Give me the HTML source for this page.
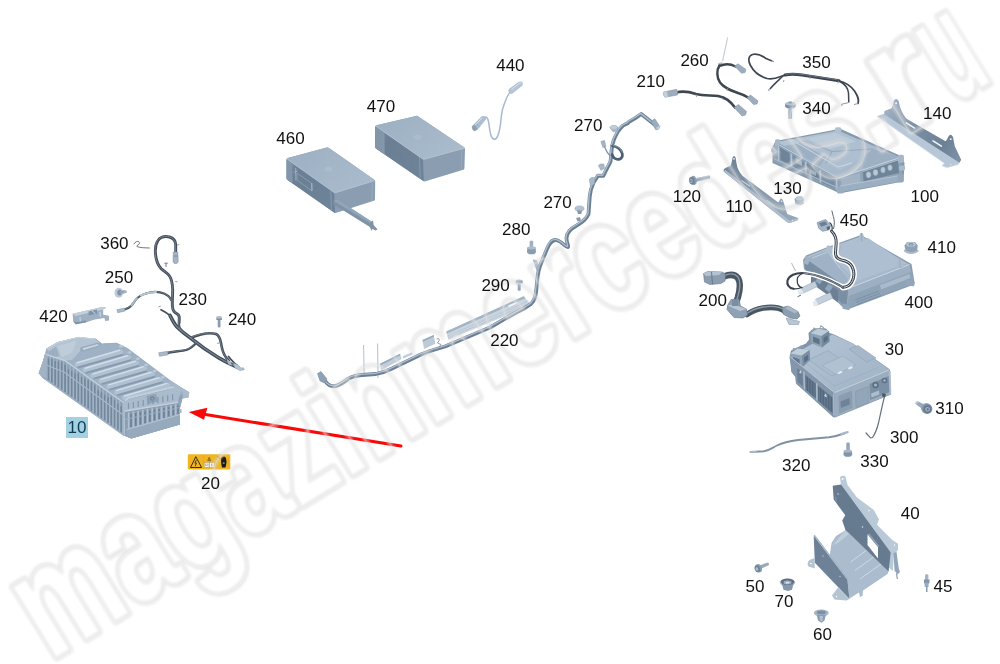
<!DOCTYPE html>
<html><head><meta charset="utf-8"><title>parts</title>
<style>
html,body{margin:0;padding:0;background:#fff;}
body{width:1000px;height:664px;overflow:hidden;font-family:"Liberation Sans",sans-serif;}
svg{display:block;}
.lb{font-family:"Liberation Sans",sans-serif;font-size:17px;fill:#111;text-anchor:middle;}
.wm{font-family:"Liberation Sans",sans-serif;font-weight:bold;font-size:154px;}
</style></head><body>
<svg width="1000" height="664" viewBox="0 0 1000 664">
<rect width="1000" height="664" fill="#fff"/>
<g id="box460">
<path d="M287.800 158 L326.700 147.500 Q328 147.200 329 147.900 L374 179.600 Q375.300 180.500 375.200 181.800 L375 199.500 Q374.900 200.500 373.900 200.800 L336.300 212.800 Q335.100 213.200 334.100 212.500 L287.600 180 Q286.600 179.300 286.600 178.300 L286.600 159.300 Q286.800 158.200 287.800 158 Z" fill="#8a9db1"/>
<path d="M287.800 158 L326.700 147.500 Q328 147.200 329 147.900 L374 179.600 Q375.500 180.700 373.800 181.200 L336 193 Q334.800 193.300 333.800 192.600 L287.600 159.800 Q286.100 158.400 287.800 158 Z" fill="url(#bxtop)"/>
<path d="M286.600 159.300 L334.300 193 L335.100 212.900 Q334.600 212.900 334.100 212.500 L287.600 180 Q286.600 179.300 286.600 178.300 Z" fill="url(#bxleft)"/>
<path d="M286.600 159.300 L292.300 163.400 L292.500 183.500 L287.600 180 Q286.600 179.300 286.600 178.300 Z" fill="#8295a9"/>
<path d="M287 159 L334.500 192.800 L374.600 180.600" fill="none" stroke="#b4c4d3" stroke-width="0.700"/>
<line x1="330.800" y1="190.700" x2="331.300" y2="210.300" stroke="#8c9fb2" stroke-width="0.800"/>
<line x1="372.200" y1="182" x2="372" y2="201" stroke="#9cadbf" stroke-width="0.800"/>
<ellipse cx="328.500" cy="169" rx="3.800" ry="2.600" fill="#acbccc"/>
<!-- front panel details -->
<path d="M297 173.200 L311.600 183.400 L311.800 190.800 L297.200 180.300 Z" fill="none" stroke="#93a6b8" stroke-width="0.700"/>
<path d="M293.800 172.500 L297.500 171 M295.700 168 L295.900 180.500" stroke="#a9b9c8" stroke-width="0.800"/>
<line x1="311.800" y1="183" x2="312" y2="191" stroke="#a9b9c8" stroke-width="1"/>
<!-- strap -->
<path d="M333.500 200.800 L337.500 199.400 L371.500 221.500 L373 220.600 L373.600 225 L377.600 229.600 L375.400 230.600 L372.200 228.700 L372 231.200 L369.500 226.800 L333.800 204.500 Z" fill="#7f93a7"/>
<path d="M333.500 200.800 L337.500 199.400 L371.500 221.500 L369.800 223 Z" fill="#93a6b9"/>

</g>
<g id="box470">
<defs>
<linearGradient id="bxtop" x1="0" y1="0" x2="1" y2="0.600"><stop offset="0" stop-color="#9db0c3"/><stop offset="1" stop-color="#a8bacb"/></linearGradient>
<linearGradient id="bxleft" x1="0" y1="0" x2="1" y2="0.700"><stop offset="0" stop-color="#788ca1"/><stop offset="0.300" stop-color="#6b7f94"/><stop offset="1" stop-color="#6f8398"/></linearGradient>
</defs>
<path d="M376.500 125.200 L416 115.900 Q417.300 115.600 418.300 116.400 L464 147.200 Q465.300 148.200 465 149.500 L464.400 168.500 Q464.300 169.400 463.300 169.700 L425.500 181.300 Q424.300 181.700 423.300 181 L376.300 148.700 Q375.300 148 375.300 147 L375.300 126.500 Q375.500 125.400 376.500 125.200 Z" fill="#8a9db1"/>
<path d="M376.500 125.200 L416 115.900 Q417.300 115.600 418.300 116.400 L464 147.200 Q465.500 148.300 463.800 148.800 L424.800 159.600 Q423.600 159.900 422.600 159.200 L376.300 127 Q374.800 125.600 376.500 125.200 Z" fill="url(#bxtop)"/>
<path d="M375.300 126.500 L423 159.500 L423.800 181.200 Q423.600 181.300 423.300 181 L376.300 148.700 Q375.300 148 375.300 147 Z" fill="url(#bxleft)"/>
<path d="M375.300 126.500 L383.800 132.400 L384 153.900 L376.300 148.700 Q375.300 148 375.300 147 Z" fill="#8295a9"/>
<line x1="384" y1="132.500" x2="384.200" y2="154" stroke="#94a6b8" stroke-width="0.600"/>
<line x1="419.500" y1="157" x2="420.200" y2="178.700" stroke="#8c9fb2" stroke-width="0.800"/>
<line x1="461.800" y1="149.500" x2="461.200" y2="170" stroke="#9cadbf" stroke-width="0.800"/>
<path d="M376 126.200 L423.200 159.300 L464.600 148.200" fill="none" stroke="#b4c4d3" stroke-width="0.700"/>
<ellipse cx="417.500" cy="137.300" rx="3.800" ry="2.600" fill="#acbccc"/>

</g>
<g id="cable440">
<path d="M510.300 91.900 C507.800 95 506.800 97 506.100 99.200 C504.500 103 503.300 106.500 502.400 109.800 C501.300 115 500.800 120.500 500.300 125.600 C499.800 129.500 499 133 497.700 136.100 C496.800 138.300 495.500 139.500 494 139.300 C492.500 139 491.600 137.500 490.800 135.100 C489.700 131 489.300 126.500 488.700 122.400 C488.300 120 487.700 118.200 486.600 117.300 C485.800 116.800 485 116.800 484 117.300" fill="none" stroke="#a6bad1" stroke-width="1.500" stroke-linecap="round"/>
<path d="M509 89.300 L518.500 82.300 Q520.800 81 522.300 82.300 Q523.300 84 522 85.600 L512.800 93 Q510.800 94 509.600 93 Q508.300 91.300 509 89.300 Z" fill="#b4c5d7" stroke="#9badc0" stroke-width="0.400"/>
<path d="M512 89 L519.500 83.200 Q521 82.600 521.600 83.300" fill="none" stroke="#dbe5ee" stroke-width="0.900" stroke-linecap="round"/>
<path d="M472 126.500 L481.500 116.800 Q483.500 115.800 485 117 L486 119 L477.800 129 L474.800 131 Q472.300 130.500 472 126.500 Z" fill="#aebfd1" stroke="#94a7ba" stroke-width="0.400"/>
<path d="M474.500 125.500 L482 118" fill="none" stroke="#d7e1eb" stroke-width="1" stroke-linecap="round"/>
<path d="M472 126.500 L474.500 124.500 L477.800 129 L474.800 131 Q472.300 130.500 472 126.500 Z" fill="#8da0b4"/>
<path d="M476.500 123.500 L479.500 127.300" stroke="#8da0b4" stroke-width="0.600"/>

</g>
<g id="harness220">
<!-- rails -->
<polygon points="446.300,331.500 523.700,296.200 531.700,305 448.300,339.800" fill="#cad5e0"/>
<polygon points="446.300,331.500 523.700,296.200 525.300,298.300 446.800,333.800" fill="#a3b4c5"/>
<path d="M447.500 336 L527 301.500 M448 338 L529 303.500" stroke="#b0bfcd" stroke-width="0.600" fill="none"/>
<polygon points="508,305.500 516,302 517,303.500 509,307" fill="#f3f6f9"/>
<polygon points="422.500,340 433.700,335 435.300,343.700 424,348.900" fill="#bcc9d6"/>
<polygon points="422.500,340 433.700,335 434.100,336.600 422.800,341.700" fill="#9aabbd"/>
<polygon points="380,363.700 400,353.700 401.600,359 381.500,370.300" fill="#c1cdd9"/>
<polygon points="380,363.700 400,353.700 400.400,355.200 380.400,365.400" fill="#98a9bb"/>
<polygon points="402.500,356.300 412,352.300 412.600,354.500 403.200,358.500" fill="#c1cdd9"/>
<!-- cable ties -->
<line x1="363.6" y1="345" x2="364.2" y2="377" stroke="#a9b8c8" stroke-width="0.900"/>
<line x1="377.6" y1="343.5" x2="378" y2="378" stroke="#a9b8c8" stroke-width="0.900"/>
<!-- main cable -->
<path id="h220" d="M654.500 124.500 L641.200 114 L635.400 118.100 L629 121.800 L627.500 123.300 L623 125.600 C620.500 128 619 129.800 618 131.400 C616 135 614.800 137.500 613.900 139.700 L612.200 145.500 C611.500 150 611.300 155 610.600 161.200 C609.500 164 608.500 165.800 607.300 167.800 L603.300 175.800 L598 175.600 L593.500 182.700 C591.500 187 590.300 191.500 589.800 196 L588.500 214 C586 220 582 222 576 226 C570 229 567 232 566.5 238 C566.5 243 569 246 568 247 C566 248 562 241 556 240 C551 240 549 244 547 249 L540 266 C537.5 273 537 280 536.5 288 C536 296 535 300 531 304 C527 307 522 310 515 313 L490 327.5 L445 346.5 C437 349 430 351 421 354.5 L391 369 C386 371.5 382 373 376 374 L362 375 C356 375.5 352 376.5 348 379 C344 382 341 384.5 336 386 C331 387 328 385 325.5 381.5" fill="none" stroke="#6b7f94" stroke-width="3.800" stroke-linejoin="round" stroke-linecap="round"/>
<path d="M654.500 124.500 L641.200 114 L635.400 118.100 L629 121.800 L627.500 123.300 L623 125.600 C620.500 128 619 129.800 618 131.400 C616 135 614.800 137.500 613.900 139.700 L612.200 145.500 C611.500 150 611.300 155 610.600 161.200 C609.500 164 608.500 165.800 607.300 167.800 L603.300 175.800 L598 175.600 L593.500 182.700 C591.500 187 590.300 191.500 589.800 196 L588.500 214 C586 220 582 222 576 226 C570 229 567 232 566.5 238 C566.5 243 569 246 568 247 C566 248 562 241 556 240 C551 240 549 244 547 249 L540 266 C537.5 273 537 280 536.5 288 C536 296 535 300 531 304 C527 307 522 310 515 313 L490 327.5 L445 346.5 C437 349 430 351 421 354.5 L391 369 C386 371.5 382 373 376 374 L362 375 C356 375.5 352 376.5 348 379 C344 382 341 384.5 336 386 C331 387 328 385 325.5 381.5" fill="none" stroke="#aebdcc" stroke-width="1.400" stroke-linejoin="round" stroke-linecap="round" transform="translate(-0.600,-0.600)"/>
<!-- loop near top -->
<path d="M612.500 146 C616.500 146.300 621 149 622.200 153.500 C623.200 157.800 620 160 617 159.300 C614.500 158.800 612.800 156.800 612.200 154.500" fill="none" stroke="#4c5e72" stroke-width="2.700" stroke-linecap="round"/>
<path d="M613 145.400 C617 145.800 621 148.500 622.300 152.500" fill="none" stroke="#8fa3b7" stroke-width="0.800"/>
<!-- connector ends -->
<path d="M650.800 121.300 L654.800 118.800 L660 126.800 L658.500 129.300 L655.800 129.800 Z" fill="#9aacbe" stroke="#7c8ea1" stroke-width="0.500"/>
<path d="M656.500 127.300 L659 125.800 L660 126.800 L658.500 129.300 L656.800 129.500 Z" fill="#c3cfda"/>
<path d="M317.5 373.5 L321 371.5 L327 379 L324.5 383 L320 381 Z" fill="#8fa1b4" stroke="#72859a" stroke-width="0.5"/>
<!-- small clips along upper section -->
<path d="M609.800 127.800 Q610.300 125.300 614 125.300 Q617.800 125.600 618 128 L616.800 131.200 L613 131.800 Z" fill="#a9b9c9" stroke="#8496a9" stroke-width="0.400"/>
<ellipse cx="613.800" cy="127.300" rx="3.300" ry="1.700" fill="#c0ceda"/>
<path d="M600.800 141.500 L604.500 140.300 L606 146.500 L602.800 147.600 Z" fill="#a3b4c5" stroke="#8496a9" stroke-width="0.400"/>
<path d="M604.500 146.500 C606 150.500 607.500 153.500 610.500 156" fill="none" stroke="#8294a8" stroke-width="1.300"/>
<path d="M598.300 165.500 Q600.500 162.800 604 164.200 L604.500 168.500 L601 170.500 Z" fill="#a9b9c9" stroke="#8496a9" stroke-width="0.400"/>
<path d="M589.200 179.500 Q591.500 176.300 594.800 177.800 L594.500 184 L590.500 186.300 Z" fill="#a9b9c9" stroke="#8496a9" stroke-width="0.400"/>
<path d="M533.200 259.800 L536.800 260.800 L539.800 268.500 L536.800 270.500 Z" fill="#a3b4c5" stroke="#8496a9" stroke-width="0.400"/>
<!-- rail hook -->
<path d="M436.5 339 Q439 337.5 439.5 340 L437.5 343 L441 344.5 L437.5 349.5" fill="none" stroke="#8797a8" stroke-width="0.9"/>
<!-- 270 lower clip -->
<ellipse cx="579.5" cy="208.5" rx="4.6" ry="2.6" fill="#b3c2d1" stroke="#8fa1b3" stroke-width="0.5"/>
<path d="M577 210.5 L582 210.5 L581.2 214 L578 214 Z" fill="#8497aa"/>
<path d="M576 218 L580 217 L581 220.5 L577.5 221.5 Z" fill="#8a9cae"/>

</g>
<g id="cables_tr">
<!-- 210 -->
<path d="M676 92.5 C684 90.5 690 92 696 94 C704 96 712 95 718 96 C726 97.5 730 101 735 107.5" fill="none" stroke="#3d4651" stroke-width="2.6" stroke-linecap="round"/>
<path d="M696 94 l0.5 3 M722 97.5 l1.5 2.5" stroke="#8797a8" stroke-width="0.8" fill="none"/>
<path d="M663.5 92 L676.5 89.3 Q678.3 92 677.5 95 L665 97.3 Q662.5 95 663.5 92 Z" fill="#9dadbe" stroke="#7c8ea1" stroke-width="0.5"/>
<path d="M663.5 92 L667 91.3 L668 96.7 L665 97.3 Q662.5 95 663.5 92 Z" fill="#c3cfda"/>
<path d="M734 107.5 L738.5 104.5 L746.5 111.5 L745.5 115 L742 116 Z" fill="#9dadbe" stroke="#7c8ea1" stroke-width="0.5"/>
<!-- 260 -->
<line x1="727.6" y1="37.5" x2="722.6" y2="61" stroke="#b3bfcb" stroke-width="0.9"/>
<path d="M718 63.5 L722 62 L723.5 66 L719 67 Z" fill="#a9b8c8"/>
<path d="M719.5 65.5 C716.5 70 716.5 77 720 82.5 C724 88 731 90.5 738 93 C743 94.5 746 96 749 98" fill="none" stroke="#3d4651" stroke-width="2.4" stroke-linecap="round"/>
<path d="M719.5 66 C724 64 730 63.5 735.5 66.5" fill="none" stroke="#3d4651" stroke-width="2.4" stroke-linecap="round"/>
<path d="M728 88 l-1 3" stroke="#8797a8" stroke-width="0.8"/>
<path d="M734.5 66 L738 63.8 L746 69.5 L745 72.5 L741.5 73.2 Z" fill="#9dadbe" stroke="#7c8ea1" stroke-width="0.5"/>
<path d="M747 97.5 L750.5 95 L758 101 L757 104 L753.5 104.6 Z" fill="#9dadbe" stroke="#7c8ea1" stroke-width="0.5"/>
<!-- 350 -->
<path d="M771.5 60.7 L766 58.5 C762 55.5 757 53.5 752.5 54.5 C748 56 748 61 750.5 65.5 C754 72 760 76.5 767 78.5 C774 80 778 77.5 783.5 75.5 C788 74 795 74 802 75 L838 80.5 C846 82.5 851 86 854.5 91 C857 95 859.5 98.5 858 103.5" fill="none" stroke="#3d4651" stroke-width="1.7" stroke-linecap="round" stroke-linejoin="round"/>
<path d="M783.5 75.5 C779 80 774 84 770 89" fill="none" stroke="#3d4651" stroke-width="1.5"/>
<path d="M785 75 C790 74 796 74.200 802 75 L839 80.700" fill="none" stroke="#3a434e" stroke-width="2.900" stroke-linecap="round"/>
<path d="M786 74.300 C790 73.500 796 73.600 802 74.400 L838 79.900" fill="none" stroke="#7a8898" stroke-width="0.700" stroke-linecap="round"/>
<path d="M839 81 C845 84 848 88 848.5 93 L848.8 102.5" fill="none" stroke="#3d4651" stroke-width="1.5"/>
<path d="M848.8 102.5 L841.5 104.3 L842 106" fill="none" stroke="#8999ab" stroke-width="1"/>
<path d="M858 103.500 L854 104.5" fill="none" stroke="#8999ab" stroke-width="1"/>
<path d="M770 89 L768.3 89.8 L769.3 91.2" fill="none" stroke="#8999ab" stroke-width="1"/>
<path d="M771.5 60.700 L774 61.7" stroke="#8999ab" stroke-width="1.2"/>
<path d="M784 80 l-0.6 2 M810 76.5 l0 2.4 M838.5 81 l-0.6 2.4" stroke="#8999ab" stroke-width="0.9"/>

</g>
<g id="bolts_mid">
<!-- 280 bolt -->
<g>
<rect x="529.6" y="240.8" width="3.6" height="7" rx="1" fill="#9fb0c1"/>
<path d="M527.300 247.600 L535.600 247.600 L536 252.400 L534 254.300 L529 254.300 L527 252.400 Z" fill="#899cb0"/>
<ellipse cx="531.5" cy="247.8" rx="4.3" ry="1.6" fill="#aebdcc"/>
</g>
<!-- 290 bolt -->
<g>
<ellipse cx="519.2" cy="281.2" rx="3.6" ry="1.7" fill="#aebdcc"/>
<path d="M515.6 281.2 L522.8 281.2 L522.4 283.6 L516 283.6 Z" fill="#8a9cae"/>
<rect x="517.7" y="283.4" width="3" height="7.4" rx="0.8" fill="#93a5b7"/>
</g>
<!-- 120 bolt -->
<g>
<path d="M695 178.300 L709.300 175.400 Q711 176.500 710 178.600 L695.600 182 Z" fill="#9aabbd"/>
<path d="M696 178.600 L709.300 175.900" stroke="#c6d2dd" stroke-width="0.700"/>
<ellipse cx="693.600" cy="180.400" rx="2.900" ry="4.600" fill="#8a9db1" transform="rotate(-12 693.600 180.400)"/>
<ellipse cx="691.800" cy="180.800" rx="2.700" ry="3.900" fill="#6f8398" transform="rotate(-12 691.800 180.800)"/>
<ellipse cx="691.200" cy="180.900" rx="1.500" ry="2.200" fill="#a9b8c8" transform="rotate(-12 691.200 180.900)"/>
<ellipse cx="691" cy="181" rx="0.700" ry="1" fill="#5f7389" transform="rotate(-12 691 181)"/>
</g>
<!-- 130 nut -->
<g>
<path d="M794.5 199 L797 196.4 L802 196.6 L803.8 199.3 L803.4 203.8 L799.8 205.2 L795.4 204 Z" fill="#9badbf"/>
<ellipse cx="799.3" cy="198.8" rx="3.4" ry="1.8" fill="#c0cdd9"/>
</g>
<!-- 340 bolt -->
<g>
<rect x="788.3" y="107" width="3.8" height="12" rx="1.2" fill="#9aabbd"/>
<path d="M785.3 103.5 L795.3 103.5 L795.6 106.6 L793.6 108.3 L787 108.3 L785 106.6 Z" fill="#7b8ea2"/>
<ellipse cx="790.3" cy="103.6" rx="4.8" ry="1.9" fill="#b4c3d1"/>
<rect x="788.4" y="101.4" width="3.8" height="2" rx="0.8" fill="#8d9fb2"/>
</g>

</g>
<g id="bracket110">
<defs>
<linearGradient id="b110w" x1="724" y1="168" x2="790" y2="215" gradientUnits="userSpaceOnUse"><stop offset="0" stop-color="#6f8398"/><stop offset="0.5" stop-color="#8497ab"/><stop offset="1" stop-color="#94a6b8"/></linearGradient>
</defs>
<path d="M723.700 169.300 L725.800 167.800 L730.700 165.700 C731.700 163 732 160.500 732.500 157.800 Q734 154.300 735.700 157.800 C736.200 161 736.500 164 737.300 166.900 C738.500 170.500 740.500 173.500 742.700 175.900 L778.300 202.400 C779 201.300 779.500 200.300 780 199.400 Q781.500 197.200 783 200.600 L784.900 206.600 L787.300 213.900 L798.100 218.100 L798.100 219.900 L789.700 222.900 L787.300 222.300 L723.700 171.600 Z" fill="url(#b110w)"/>
<path d="M723.700 171.600 L787.300 222.300 L789.700 222.900 L798.100 219.900 L798.100 218.100 L789.500 220.400 L725.200 169.700 Z" fill="#adbccb"/>
<circle cx="734" cy="158.800" r="0.900" fill="#eef3f7"/>
<circle cx="781.500" cy="201.300" r="0.800" fill="#eef3f7"/>
<line x1="741.800" y1="180.800" x2="749.600" y2="186" stroke="#c4d0db" stroke-width="1.200" stroke-linecap="round"/>
<line x1="767" y1="200.700" x2="774.400" y2="205.900" stroke="#c4d0db" stroke-width="1.200" stroke-linecap="round"/>
<circle cx="792.500" cy="220.300" r="0.500" fill="#fff"/>

</g>
<g id="module100">
<defs>
<linearGradient id="m100top" x1="0" y1="0" x2="1" y2="1"><stop offset="0" stop-color="#b7c7d6"/><stop offset="1" stop-color="#9fb2c5"/></linearGradient>
</defs>
<!-- base flange / silhouette -->
<path d="M772.500 147 L775.500 141 L836.500 129.500 L838.500 128 L842 129.500 L902 156.500 L904.500 163 L903.500 181.500 L841.500 193 L838 192.500 L772.500 163 Z" fill="#8599ad"/>
<!-- top -->
<polygon points="777,142 838,130.500 900.500,157.500 838,178 " fill="url(#m100top)"/>
<!-- lid -->
<polygon points="803,140.500 838,134 873,149 862,158 840,170.500 826,163.500 832,151.500" fill="#adbfd0"/>
<path d="M803 140.500 L832 151.500 L826 163.500 M832 151.500 L873 149" stroke="#8ea2b6" stroke-width="0.800" fill="none"/>
<polygon points="806,138.500 836,133 856,141.500 830,149" fill="#bccbd9"/>
<polygon points="784,146 800,143 826,157 820,166" fill="#9db0c3"/>
<path d="M791 139.500 L838 167 L852 163" stroke="#d6e0ea" stroke-width="0.800" fill="none"/>
<!-- right top recessed region -->
<polygon points="862,158 873,149 900.500,157.500 864,170" fill="#9db0c3"/>
<!-- left front face -->
<polygon points="776,143 838,178 839.500,191.500 773.500,161.500" fill="#8ea2b6"/>
<polygon points="780,147.500 789.500,153 790,164.500 780.500,160" fill="#6f8499"/>
<polygon points="792.500,155 804,161.500 804.500,172 793,166.500" fill="#7a8ea3"/>
<polygon points="807,163.500 818.500,170 819,180.500 807.500,175" fill="#6c8196"/>
<polygon points="821.500,171.500 834.500,178.500 835,188.500 822,183" fill="#7a8ea3"/>
<polygon points="796,158 802,161.300 802,166 796,163" fill="#a9bacb"/>
<polygon points="810,169 816,172.300 816,176 810,173" fill="#9fb1c3"/>
<path d="M778.300 146 L778.700 161.500 M791.200 153.500 L791.500 167 M805.700 161.500 L806 174.500 M820.200 170 L820.500 182.500 M836.500 178.500 L837 190" stroke="#b3c3d2" stroke-width="1.300" fill="none"/>
<path d="M776 143 L838 178" stroke="#c6d3df" stroke-width="1" fill="none"/>
<path d="M773.500 158.500 L839 188.500" stroke="#a9bacb" stroke-width="1.100" fill="none"/>
<!-- right front face -->
<polygon points="838,178 900.500,157.500 903,180.500 839.500,191.500" fill="#90a4b8"/>
<polygon points="841,179 860,172.800 860.500,183.500 841.500,187.500" fill="#a1b3c5"/>
<polygon points="863,171.500 898,160 899,173 863.500,181.500" fill="#6f8499"/>
<g fill="#b9c8d6" stroke="#8ea2b6" stroke-width="0.500">
<ellipse cx="868.500" cy="174.800" rx="2.500" ry="3.100"/>
<ellipse cx="875.500" cy="172.500" rx="2.500" ry="3.100"/>
<ellipse cx="883" cy="170" rx="2.300" ry="2.900"/>
<ellipse cx="890" cy="167.700" rx="2.300" ry="2.900"/>
</g>
<path d="M863 171.500 L898 160" stroke="#a9bacb" stroke-width="1" fill="none"/>
<polygon points="840,186 903,175 903.300,181 841,192" fill="#9cafc2"/>
<path d="M840 186 L903 175" stroke="#b9c8d6" stroke-width="0.800"/>
<path d="M838 178 L900.500 157.500" stroke="#cfdae4" stroke-width="0.900" fill="none"/>
<!-- corner posts -->
<rect x="775" y="139.300" width="5.200" height="7" rx="1.600" fill="#a5b7c8"/>
<rect x="834.800" y="127.300" width="6.600" height="5.200" rx="1.900" fill="#b1c1d1"/>
<rect x="897.800" y="154.800" width="6.200" height="8" rx="1.900" fill="#a5b7c8"/>
<rect x="899" y="165.500" width="6" height="5" rx="1.500" fill="#a9bacb"/>
<rect x="897.500" y="175" width="6" height="7.500" rx="1.600" fill="#95a8bb"/>
<rect x="837" y="186.800" width="6.800" height="6.700" rx="1.600" fill="#9aadc0"/>
<rect x="771.300" y="147.800" width="3.600" height="5" rx="1.300" fill="#a5b7c8"/>
<rect x="848.500" y="186" width="3" height="4.600" rx="1" fill="#9aadc0"/>
<rect x="856.500" y="184.500" width="3" height="4.600" rx="1" fill="#9aadc0"/>

</g>
<g id="bracket140">
<defs>
<linearGradient id="b140w" x1="884" y1="112" x2="960" y2="160" gradientUnits="userSpaceOnUse"><stop offset="0" stop-color="#9fb1c3"/><stop offset="0.35" stop-color="#7e92a7"/><stop offset="0.75" stop-color="#6c8096"/><stop offset="1" stop-color="#7e92a7"/></linearGradient>
</defs>
<!-- flange -->
<path d="M877 116.200 L884.100 113.800 L959.600 162 L958.300 164.500 L947 167.800 L942 165.800 L944.300 163.300 Z" fill="#b7c7d7"/>
<path d="M877 116.200 L944.300 163.300 L942 165.800 L947 167.800 L958.300 164.500" fill="none" stroke="#d4dfe9" stroke-width="0.700"/>
<!-- wall -->
<path d="M884.100 114.300 L884.500 110.900 L891.500 108.200 C892.800 106 893.200 103.500 893.700 100.900 Q896.200 96.800 898.800 101.300 C899.300 104 899.700 106.500 900.500 108.600 C902 112.500 904 116 906.500 118.800 L945.500 141.200 C946.800 140 947.600 138.200 948.400 136.400 Q950.700 132.600 953 137.100 L954.800 146.300 L961.200 159.800 L959.600 162.700 Z" fill="url(#b140w)"/>
<circle cx="896.100" cy="103.200" r="1" fill="#f2f6f9"/>
<circle cx="950.700" cy="139.200" r="0.900" fill="#f2f6f9"/>
<line x1="906.300" y1="122.900" x2="914.600" y2="128.200" stroke="#f4f7fa" stroke-width="1.500" stroke-linecap="round"/>
<line x1="933" y1="140.800" x2="941.400" y2="146.100" stroke="#f4f7fa" stroke-width="1.500" stroke-linecap="round"/>
<circle cx="950.800" cy="164.300" r="0.500" fill="#fff"/>

</g>
<g id="module400">
<defs>
<linearGradient id="m400top" x1="0" y1="0" x2="1" y2="1"><stop offset="0" stop-color="#b4c5d5"/><stop offset="1" stop-color="#a0b3c6"/></linearGradient>
</defs>
<!-- body outline/base -->
<polygon points="803,260 806,255.500 829,246.500 861,235 911.500,264 914.500,282.500 911.500,285.500 849,309 843.500,308 804,269" fill="#8a9eb2"/>
<!-- top face -->
<polygon points="805,257.500 829,247.500 861,236.500 909.500,264.500 848,288.500" fill="url(#m400top)"/>
<polygon points="841,245.500 868,238 906,263.500 856,281.500 836,262" fill="#adbfd0"/>
<path d="M841 245.500 L836 262 L856 281.500" stroke="#9db0c3" stroke-width="0.800" fill="none"/>
<polygon points="806,258.500 828,249.500 834,262 848,279 846,287" fill="#a0b3c6"/>
<path d="M812 258 L828 252 L840 268" stroke="#c9d6e1" stroke-width="0.800" fill="none"/>
<!-- right-front face -->
<polygon points="848,288.500 909.500,264.500 913.500,283 846.500,307.500" fill="#9db0c3"/>
<polygon points="849,296 911,272 913.500,283 846.500,307.500" fill="#8fa3b7"/>
<polygon points="880,285 909.500,274 910.500,278 881,289.500" fill="#a9bacb"/>
<path d="M855 300 L879 291 M856 302.300 L880 293.300 M857 304.600 L881 295.600" stroke="#74889d" stroke-width="0.700"/>
<path d="M848 288.500 L909.500 264.500" stroke="#cbd7e2" stroke-width="1"/>
<!-- left-front face -->
<polygon points="805,258.500 848,288.500 846.500,307.500 805,268.500" fill="#7b8fa4"/>
<!-- mounting ears -->
<path d="M857.500 240.500 L860.300 233.500 Q861.500 231.800 862.800 233.600 L866 242 Z" fill="#adbdcd"/>
<path d="M861.500 233 L861.800 241.500" stroke="#8ea2b6" stroke-width="0.700"/>
<path d="M824.500 252.500 L827 246 Q828.300 244.400 829.500 246.100 L832.500 254 Z" fill="#adbdcd"/>
<path d="M895.500 266.500 L898.500 260.300 Q899.800 259 901 260.600 L904 269 Z" fill="#adbdcd"/>
<path d="M899.700 260 L900 268" stroke="#8ea2b6" stroke-width="0.700"/>
<path d="M803.500 263 L806.500 256 L810.500 257.500 L808 265 Z" fill="#a1b3c5"/>
<polygon points="906.500,279 915,282.300 914,286.300 906,285.500" fill="#93a6b9"/>
<polygon points="843,303.500 849.800,305 849.300,310.300 842.500,308.800" fill="#93a6b9"/>
<!-- front connectors -->
<polygon points="811,271 838,290.500 838,302.500 811,283" fill="#6b7f95"/>
<rect x="816.500" y="277" width="5.500" height="6.500" fill="#93a6b9" transform="rotate(35 819.500 280.500)"/>
<rect x="826" y="284.500" width="5.500" height="6.500" fill="#93a6b9" transform="rotate(35 828.500 288)"/>
<g transform="translate(-2.500,-2.700)"><path d="M803.500 290.800 L817.500 284 L819.800 289.300 L806 295.800 L801.500 296.500 Z" fill="#c3d0dc" stroke="#8ea0b3" stroke-width="0.500"/>
<path d="M800 293.500 L803.500 291 L806 295.800 L801 297 Z" fill="#e3eaf0"/></g>
<g transform="translate(-1.800,-0.800)"><path d="M817.500 300 L832 293.300 L834.500 299 L820 305.500 L816 306.300 Z" fill="#c3d0dc" stroke="#8ea0b3" stroke-width="0.500"/>
<path d="M814.500 303 L817.500 300.300 L820 305.500 L815.500 307 Z" fill="#e3eaf0"/></g>
<path d="M797.500 296.800 L801 295" stroke="#3d4651" stroke-width="0.800"/>
<!-- nut 410 -->
<g>
<path d="M904.500 245.500 L907 242 L915 242 L917.800 245.500 L917 251 L911.500 253 L905.500 251 Z" fill="#8fa1b4"/>
<ellipse cx="911" cy="244.300" rx="4.600" ry="2.500" fill="#b9c7d4"/>
<ellipse cx="911" cy="244.400" rx="2.500" ry="1.300" fill="#7d91a6"/>
<ellipse cx="911.200" cy="244.700" rx="1.500" ry="0.700" fill="#a9b9c9"/>
<path d="M904 249.500 Q911 254.500 918.500 249.500 L918.500 251.500 Q911 256.500 904 251.500 Z" fill="#a9b8c8"/>
</g>
<!-- cable 450 (white halo + dark double core) -->
<g fill="none" stroke-linecap="round" stroke-linejoin="round">
<path d="M831.500 231 C834.500 234 836.300 238 836.200 243 L835.500 252.500 C835.300 257 837.500 259 841.500 260 C846.500 261 850 262.500 852 266.500 C854.500 271.500 854.500 277.500 851.500 282.500 C849.500 285.500 846.500 287.300 843 287.300" stroke="#fff" stroke-width="6.200"/>
<path d="M843 287.300 C838 284.500 833 281.800 827 279.300 C819 276 811 273.500 803 273 C795.500 272.700 789 275.500 787.500 280.500 C786.500 284.500 789 288 793.500 288.800" stroke="#fff" stroke-width="5"/>
<path d="M831.500 231 C834.500 234 836.300 238 836.200 243 L835.500 252.500 C835.300 257 837.500 259 841.500 260 C846.500 261 850 262.500 852 266.500 C854.500 271.500 854.500 277.500 851.500 282.500 C849.500 285.500 846.500 287.300 843 287.300" stroke="#39424d" stroke-width="3"/>
<path d="M831.500 231 C834.500 234 836.300 238 836.200 243 L835.500 252.500 C835.300 257 837.500 259 841.500 260 C846.500 261 850 262.500 852 266.500 C854.500 271.500 854.500 277.500 851.500 282.500 C849.500 285.500 846.500 287.300 843 287.300" stroke="#d5dce3" stroke-width="1"/>
<path d="M843 287.300 C838 284.500 833 281.800 827 279.300 C819 276 811 273.500 803 273 C795.500 272.700 789 275.500 787.500 280.500 C786.500 284.500 789 288 793.500 288.800" stroke="#39424d" stroke-width="2.100"/>
<path d="M843 287.300 C838 284.500 833 281.800 827 279.300 C819 276 811 273.500 803 273" stroke="#aeb8c2" stroke-width="0.700"/>
<path d="M803 273.300 C798.500 275 796.500 278.500 797.300 282.500 C798 285.500 799.500 287 802 287.800" stroke="#333b45" stroke-width="1.200"/>
<path d="M793.500 288.800 C796.500 289.300 799.500 288.500 802 287.300" stroke="#333b45" stroke-width="1.200"/>
</g>
<path d="M817.100 222.600 L825.800 219.500 L830.600 225.800 L829 229.800 L822.700 231.300 L818.700 228.200 Z" fill="#a3b5c7" stroke="#6f8398" stroke-width="0.600"/>
<path d="M819 223.300 L825 221.200 L827.500 224.500 L821.300 226.800 Z" fill="#6b7f95"/>
<path d="M826.500 227 L829.500 226 L830.300 229 L827.300 230.300 Z" fill="#55697f"/>
<path d="M831.800 210.500 L833.300 216.500 C834.500 220 834.800 224 833.500 229" fill="none" stroke="#4d5966" stroke-width="0.900"/>
<path d="M829.500 222.500 C831.500 224 832.500 227 832 230" fill="none" stroke="#333b45" stroke-width="1.100"/>
<path d="M791.500 263 L795.500 271" stroke="#8797a8" stroke-width="0.700"/>

</g>
<g id="cable200">
<g fill="none" stroke-linecap="round" stroke-linejoin="round">
<path d="M724 276.500 C730 274 735 274.500 738 278 C741 283 740 290 738 297 L735 306" stroke="#4b5663" stroke-width="6.500"/>
<path d="M724 275.500 C730 273 735 273.500 738 277 C741 282 740 289 738 296 L735 305" stroke="#8a9aab" stroke-width="1.400"/>
<path d="M747 314.500 C752 311 757 309 763 308 C770 307 777 306.500 783 310" stroke="#4b5663" stroke-width="5.600"/>
<path d="M747 313.300 C752 310 757 308 763 307 C770 306 777 305.500 783 309" stroke="#8a9aab" stroke-width="1.300"/>
</g>
<!-- connector top-left -->
<path d="M703.500 273.500 L708 271.500 L722 272 L725.500 274 L725 281 L721 283.500 L710 284.500 L704.500 282 Z" fill="#8b9daf" stroke="#64788c" stroke-width="0.600"/>
<path d="M703.500 273.500 L708 271.500 L722 272 L719 275 L706 276 Z" fill="#b4c3d1"/>
<path d="M711.500 272 L712.500 284.300" stroke="#5f7389" stroke-width="0.900"/>
<!-- junction block -->
<path d="M731 299.500 L739 299 L740.500 306 L746.500 309 L747.500 315 L743 318 L734 317.500 L727 309.500 L727.500 305.500 Z" fill="#8fa1b4" stroke="#64788c" stroke-width="0.600"/>
<path d="M727.500 305.500 L734 304.500 L746.500 309 L740 311 Z" fill="#b9c7d4"/>
<rect x="732" y="300" width="6.500" height="6" fill="#7a8ea3"/>
<!-- connector right -->
<path d="M782 307.500 L788 306 L798 311.500 L800 316 L797 319 L790 318 L783 314 Z" fill="#8b9daf" stroke="#64788c" stroke-width="0.600"/>
<path d="M786 318 L792 319.500 L799.500 321.500 L798.500 324.500 L789 324.500 Z" fill="#b9c7d4" stroke="#7c8ea1" stroke-width="0.500"/>
<path d="M788 306 L798 311.500 L795 313.500 L785 308.500 Z" fill="#aab9c8"/>

</g>
<g id="module30">
<defs>
<linearGradient id="m30top" x1="0" y1="0" x2="1" y2="1"><stop offset="0" stop-color="#b4c5d5"/><stop offset="1" stop-color="#9fb2c5"/></linearGradient>
<pattern id="fins" width="1.600" height="4" patternUnits="userSpaceOnUse"><rect width="1.600" height="4" fill="#51657b"/><rect width="0.600" height="4" fill="#6d8196"/></pattern>
</defs>
<!-- silhouette -->
<path d="M789.500 357 L791 350.500 L797 347.500 L806 343.500 L809 339.500 L808.500 333 L812 329.500 L818 328 L826 328.500 L829.500 333 L833 334 L853 343.500 L890 369.500 L891 394.500 L835 417.500 L833 417 L796 383.500 L795.500 377 L791.500 372 Z" fill="#8094a9"/>
<!-- top face -->
<path d="M790.500 356.500 L810 345 L832.500 334.500 L853 343.800 L889.500 369.800 L834.500 392.700 Z" fill="url(#m30top)"/>
<path d="M808.500 360 L828 350.500 L851 366.500 L832 376 Z" fill="#a9bbcd" stroke="#92a5b8" stroke-width="0.600"/>
<path d="M849 349 L858 345.500 L876 358 L866.500 362 Z" fill="#a5b7c9" stroke="#8fa2b6" stroke-width="0.600"/>
<path d="M822 365.500 L843 356 L856 365 L836 374.500 Z" fill="#b0c1d2" stroke="#92a5b8" stroke-width="0.500"/>
<ellipse cx="840" cy="372.500" rx="2.600" ry="1.200" fill="#e4ebf1" transform="rotate(-22 840 372.500)"/>
<ellipse cx="850.500" cy="367.800" rx="2.600" ry="1.200" fill="#e4ebf1" transform="rotate(-22 850.500 367.800)"/>
<path d="M806 363 L834.500 386 L878 367.500" fill="none" stroke="#98abbd" stroke-width="0.600"/>
<!-- top-left protrusions -->
<g>
<polygon points="810.500,333 818,328.500 829,331 829.500,341.500 821.800,347.500 810.800,343" fill="#8da1b5"/>
<polygon points="810.500,333 818,328.500 829,331 821.500,336" fill="#bccbd8"/>
<polygon points="821.500,336 829,331 829.500,341.500 821.800,347.500" fill="#768a9f"/>
<polygon points="813,336.500 819.500,339 819.700,344.500 813.200,342" fill="#5f7389"/>
<path d="M812.500 331.500 L814 328 L816.500 329.500 M820 327.800 L821 325.800 L823.500 327.500 L824 329.500" fill="none" stroke="#8fa3b7" stroke-width="1.100"/>
<polygon points="823.500,338 827.500,335.300 827.800,340 823.800,343" fill="#5a6e84"/>
</g>
<g>
<polygon points="790.500,353.500 797.500,348.500 809.500,350 810,360 802.500,367 791,364" fill="#90a4b8"/>
<polygon points="790.500,353.500 797.500,348.500 809.500,350 802,355.500" fill="#c0ceda"/>
<polygon points="802,355.500 809.500,350 810,360 802.500,367" fill="#7a8ea3"/>
<polygon points="793,357 799.500,359.300 799.700,364.500 793.200,362.500" fill="#62768c"/>
<path d="M792.500 351.500 L793.500 348.500 L796 349.500 M800 347.800 L801 345.800 L803.500 347.300" fill="none" stroke="#8fa3b7" stroke-width="1.100"/>
<polygon points="804,357.500 808,354.800 808.300,359.500 804.300,362.500" fill="#5a6e84"/>
</g>
<!-- left-front face -->
<path d="M790.500 357 L834.500 392.700 L835 417 L796 383.500 L795.500 377 L791.500 372 Z" fill="#8396ab"/>
<path d="M805.300 375 L815.600 383.500 L815.800 398.500 L805.600 389.800 Z" fill="url(#fins)"/>
<path d="M817.800 385.500 L832.500 397.500 L832.800 413.500 L818 400.800 Z" fill="url(#fins)"/>
<path d="M797 368 L802.500 372.500 L803 386.500 L797.500 381.500 Z" fill="#6b7f95"/>
<path d="M803.800 371.500 L804.500 389.500 M816.700 383 L817 400.500 M833.700 393.500 L834 415.500" stroke="#aebdcc" stroke-width="1.300" fill="none"/>
<path d="M799 372.500 l1.800 -2.500 l0.800 3.800 z M824 396 l2 -3 l1 4.500 z" fill="#c9d5e0"/>
<path d="M790.500 357 L834.500 392.700" stroke="#c3d0dc" stroke-width="0.800"/>
<!-- right-front face -->
<path d="M834.500 392.700 L889.500 369.800 L890.700 394.300 L835 417 Z" fill="#9badbf"/>
<path d="M834.500 392.700 L889.500 369.800" stroke="#cad6e1" stroke-width="0.900"/>
<path d="M838.500 396 L852 390.500 L852.500 408 L839 413.500 Z" fill="#8a9db1"/>
<path d="M840.500 401.500 L849.500 398 L849.800 404.500 L840.800 408 Z" fill="#6f8398"/>
<path d="M855.500 391.500 L868 386.500 L868.500 402.500 L856 407.500 Z" fill="#93a6b9" stroke="#8194a8" stroke-width="0.500"/>
<path d="M869.500 384 L889 376 L889.800 392 L870 400 Z" fill="#7c90a5"/>
<circle cx="875.500" cy="385" r="3.200" fill="#5b6f85"/><circle cx="875.500" cy="385" r="1.500" fill="#a9b9c9"/>
<circle cx="884.500" cy="380.500" r="2.800" fill="#5b6f85"/><circle cx="884.500" cy="380.500" r="1.200" fill="#a9b9c9"/>
<path d="M871 393.500 L879 390.500 L879.500 394.500 L871.500 397.500 Z" fill="#aebdcc"/>
<path d="M888.500 371.500 L890.500 371 L891.300 393.500 L889.500 394.500 Z" fill="#aebdcc"/>

</g>
<g id="cables_br">
<!-- 300 -->
<path d="M884.500 396.500 C882.500 404 880.500 414 878.500 423 C877 429 875 434 872.500 437.500 L870.500 437.800 L866 433" fill="none" stroke="#66727f" stroke-width="1.200" stroke-linecap="round" stroke-linejoin="round"/>
<path d="M882.500 393 L886 394.200 L885 397.500 L882 396.300 Z" fill="#4c5764"/>
<!-- 320 -->
<path d="M750.500 452 L764 451.300 C769 450.500 772 448 777 445.500 C783 442.500 790 441 798 440 L829 437.300 C835 436.500 840 435 844 433.500" fill="none" stroke="#8192a4" stroke-width="1.900" stroke-linecap="round"/>
<path d="M841.500 434.200 L847.500 432.200" stroke="#a9b8c7" stroke-width="2.400" stroke-linecap="round"/>
<path d="M750.500 452 L756 451.700" stroke="#b4c1ce" stroke-width="1.300" stroke-linecap="round"/>
<!-- 330 bolt -->
<g>
<rect x="846.300" y="442.500" width="3.500" height="9.500" rx="1.200" fill="#93a5b7"/>
<path d="M843.800 451 L851.800 451 L852.300 455 L850 456.800 L845.500 456.800 L843.500 455 Z" fill="#8195a9"/>
<ellipse cx="847.800" cy="451" rx="4.100" ry="1.500" fill="#a9b9c9"/>
</g>
<!-- 310 bolt -->
<g>
<path d="M914.800 403.600 L917.200 400.900 L925.500 405 L923 409.500 Z" fill="#9aabbd"/>
<path d="M914.800 403.600 L917.200 400.900 L918.600 401.600 L916.200 404.400 Z" fill="#c3cfda"/>
<circle cx="926.300" cy="408.300" r="5.300" fill="#93a6b9"/>
<circle cx="927.300" cy="409" r="5" fill="#7a8ea3"/>
<circle cx="927.500" cy="409.200" r="3.700" fill="#63778c"/>
<circle cx="927.600" cy="409.300" r="2.400" fill="#a3b4c5"/>
<circle cx="927.700" cy="409.400" r="1.100" fill="#5a6e84"/>
</g>

</g>
<g id="bracket40">
<!-- back flange (light) -->
<path d="M840 477 Q842.600 474.800 845.300 476.300 L847.500 485 L857 497.500 L873.800 510 L879 519.500 L877 524.800 L891.700 539.500 L898 543.800 L898 550 L894 554.500 L892.800 571 L888.500 567 L841 485.500 Z" fill="#b9c9d8"/>
<circle cx="842.600" cy="479" r="0.900" fill="#fff"/>
<circle cx="869" cy="510.500" r="0.700" fill="#fff"/>
<circle cx="894.500" cy="545" r="0.700" fill="#fff"/>
<!-- floor -->
<path d="M831.600 542.800 L836 536 L845 530.500 L846 524 L888.600 571 L887.500 574 L863 590.500 L862.500 596 L860 597 L859 592.500 L849.500 598.500 L847.400 579.700 L829.600 556.300 Z" fill="#aabccd"/>
<path d="M850.500 562 L871 547 M855 570.500 L877 554.500 M860 579 L883 562.500" stroke="#d2dde7" stroke-width="0.900"/>
<path d="M845 530.500 L849 534 L838 543 L833 545 Z" fill="#c0cedb"/>
<!-- back wall (dark) -->
<path d="M832.700 485.800 L841 484.600 L890.700 552.500 L888.600 571.500 L845.300 529.500 L842.200 520.500 L845.300 515.300 L833.700 499.500 Z" fill="#677b90"/>
<path d="M867.500 534.300 L878 547 L878 558.600 L867.500 545 Z" fill="#fff"/>
<path d="M867.500 534.300 L869.300 533.500 L879.300 546 L878 547 Z" fill="#8fa2b5"/>
<circle cx="862.500" cy="527" r="0.700" fill="#dfe7ee"/>
<circle cx="838" cy="494" r="0.700" fill="#dfe7ee"/>
<path d="M835.500 497 l0.700 5" stroke="#8fa2b5" stroke-width="0.700"/>
<!-- right clip -->
<path d="M893.500 553 L896.500 552 L898.800 568.500 L900 572 L897.500 574.500 L894.500 570.500 Z" fill="#93a6b9"/>
<path d="M896.500 573.500 L897.300 579" stroke="#6c8095" stroke-width="0.900"/>
<!-- left wall (dark) -->
<path d="M813.700 535.400 L847.400 579.700 L849.500 599 L814.800 562.800 Z" fill="#6e8297"/>
<path d="M813.700 535.400 L814.800 534.800 L848.500 579 L847.400 579.700 Z" fill="#a3b4c5"/>
<circle cx="823" cy="556" r="0.700" fill="#b9c7d4"/>
<circle cx="840" cy="576.500" r="0.700" fill="#b9c7d4"/>
<!-- feet -->
<path d="M814.500 558 L809.500 560 Q806.300 563 808.500 566.500 L814.800 568.500 Z" fill="#b4c4d3"/>
<circle cx="811" cy="563.500" r="0.800" fill="#fff"/>
<path d="M838 587.500 L832 595.500 L834.500 599.500 L846.500 600.500 L849.500 599 Z" fill="#b4c4d3"/>
<circle cx="836.500" cy="596.500" r="0.700" fill="#fff"/>

</g>
<g id="fasteners">
<!-- 50 bolt -->
<g>
<path d="M759.500 565.500 L767.500 562.500 Q769.500 563 768.800 565.300 L761 568.800 Z" fill="#9aabbd"/>
<ellipse cx="758.500" cy="568.300" rx="3.300" ry="4.300" fill="#8a9db1" transform="rotate(-20 758.500 568.300)"/>
<ellipse cx="757.300" cy="568.800" rx="2.600" ry="3.500" fill="#6f8398" transform="rotate(-20 757.300 568.800)"/>
<ellipse cx="756.900" cy="569" rx="1.300" ry="1.800" fill="#b0bfce" transform="rotate(-20 756.900 569)"/>
</g>
<!-- 70 nut -->
<g>
<ellipse cx="787.500" cy="582.500" rx="7.600" ry="3.800" fill="#a9b9c9"/>
<path d="M781.800 583.500 L793.500 583.500 L792 589.800 L788 591 L783.500 589.800 Z" fill="#8497ab"/>
<ellipse cx="787.500" cy="581.800" rx="6.800" ry="3.200" fill="#5c7086"/>
<ellipse cx="787.500" cy="582.500" rx="4" ry="1.900" fill="#9fb0c1"/>
<ellipse cx="787.500" cy="582.700" rx="1.800" ry="0.900" fill="#dbe4ec"/>
</g>
<!-- 60 clip -->
<g>
<ellipse cx="821.300" cy="613" rx="7.400" ry="3.400" fill="#a3b4c5"/>
<ellipse cx="821.300" cy="612.400" rx="4.500" ry="1.900" fill="#7d91a6"/>
<path d="M816.800 615 L825.800 615 L824.500 620.500 L821.300 622.800 L818 620.500 Z" fill="#8a9db1"/>
<path d="M819.500 616 L823 616 L822.300 621 L820.300 621 Z" fill="#b4c3d1"/>
</g>
<!-- 45 pin -->
<g>
<rect x="925" y="574.300" width="3.400" height="6" rx="1.300" fill="#a3b4c5"/>
<path d="M923.800 579.500 L929.600 579.500 L929.300 583.500 L924.100 583.500 Z" fill="#8295a9"/>
<rect x="924.600" y="582.500" width="4" height="4.500" rx="1" fill="#9aabbd"/>
<rect x="926" y="586" width="1.500" height="6" fill="#8a9db1"/>
</g>

</g>
<g id="left_harness">
<!-- 360 -->
<path d="M133.800 244.200 C135.500 241 139 240.500 139.500 242.800 C139.800 245 135.500 245.500 137 246.500 C139.500 247.800 144.500 247.800 149.800 248" fill="none" stroke="#4a5460" stroke-width="0.800"/>
<!-- 250 clip -->
<g>
<path d="M119.500 290 L126 290.200 Q127.600 291.300 126.500 293 L120 294 Z" fill="#a3b4c5"/>
<ellipse cx="118.800" cy="292.800" rx="4.300" ry="5" fill="#bccad8"/>
<ellipse cx="119.600" cy="292.600" rx="2.300" ry="2.800" fill="#7d91a6"/>
<path d="M119.500 291.300 L124 290.800 L124 293.300 L119.800 293.800 Z" fill="#94a6b8"/>
</g>
<!-- 420 bracket -->
<g>
<path d="M72.600 313.700 L102.100 306.900 L106.400 307.400 L103.200 309.500 L103.200 314.800 L109 315.800 L109 320.600 L105.300 321.100 L104.300 317.900 L94.800 319.500 L86.300 322.200 L75.800 324.300 L73.200 321.600 Z" fill="#9eb0c2"/>
<path d="M72.600 313.700 L102.100 306.900 L106.400 307.400 L103.200 309.500 L75.500 316 Z" fill="#c3d0dc"/>
<path d="M88.500 311.500 L97 309.600 L97.300 313.500 L88.800 315.400 Z" fill="#8093a8"/>
<path d="M92 310.800 l3.500 3 M80 317 l0.300 5 M100 312 l0.300 4.500" stroke="#dfe7ee" stroke-width="0.800"/>
<path d="M73.200 321.600 L75.800 324.300 L86.300 322.200 L86 320.500 L76.500 322.300 Z" fill="#7f93a7"/>
</g>
<!-- 240 bolt -->
<g>
<rect x="217.700" y="319.500" width="2.800" height="8" rx="1" fill="#8a9db1"/>
<path d="M216.300 317.500 L222 317.500 L221.800 320 L216.500 320 Z" fill="#7b8ea2"/>
<ellipse cx="219.100" cy="317.400" rx="2.900" ry="1.300" fill="#aebdcc"/>
</g>
<!-- harness 230 -->
<g fill="none" stroke-linecap="round" stroke-linejoin="round">
<path d="M175.700 252.500 L175.700 244.500 C175.500 240.500 173 238 169.500 237 C165 236 160.500 237 158 240.500 C155.500 244 155 249 155.500 254 C156 259.500 157.500 264.500 161 268.500 C164 271.500 167.500 273 169.500 276 C172 279.500 172.500 284 172.700 290 L172.300 304 C172.300 308 173 311 175 312.500 C177 313.700 179.300 314.500 179.300 317.500 L179.100 322.500" stroke="#434d59" stroke-width="2.9"/>
<path d="M170 315.400 C172 319.500 174 323.500 177 327 C181 331 185.500 334.500 190.500 338 L204 348.200 L219.700 358.400 C225 361.500 230 364 236 366.500" stroke="#434d59" stroke-width="3.6"/>
<path d="M179.100 322.500 C178.500 326 179.500 328.500 181.500 330.500" stroke="#434d59" stroke-width="2.4"/>
<path d="M171 300 C170 297 167.500 295 164 293.500 C160 291.800 155 291.500 150 292.500 C145.500 293.500 141 295 138 297.500 C135 300 133.500 303 131.500 305.500 C129.500 307.800 127.500 308.500 125 309.200" stroke="#434d59" stroke-width="2.2"/>
<path d="M190.500 338 C194 336.300 197 335.500 201 334.500 C206 333.300 212 332.800 216 334 C219.500 335.500 220.300 339 221 343 C221.700 347.500 222.500 351.500 224.500 355 C226 358 227.500 359.500 229 361" stroke="#434d59" stroke-width="2.6"/>
<path d="M196.500 342.500 C193.500 346 190.500 348.500 186.500 349.800 C182 351 176 351.300 168 352.800" stroke="#434d59" stroke-width="2.4"/>
<path d="M161 309.700 L165 312 L170 315.400" stroke="#434d59" stroke-width="1.6"/>
<path d="M228.500 356.500 C231 359.500 233.500 362.500 236.500 365" stroke="#434d59" stroke-width="1.8"/>
<path d="M175.700 252.500 L175.700 244.500 C175.500 240.500 173 238 169.500 237 C165 236 160.500 237 158 240.500 C155.500 244 155 249 155.500 254 C156 259.500 157.500 264.500 161 268.500 C164 271.500 167.500 273 169.500 276 C172 279.500 172.500 284 172.700 290 L172.300 304 C172.300 308 173 311 175 312.500 C177 313.700 179.300 314.500 179.300 317.500 L179.100 322.500" stroke="#7f8d9c" stroke-width="0.81" transform="translate(-0.300,-0.300)"/>
<path d="M170 315.400 C172 319.500 174 323.500 177 327 C181 331 185.500 334.500 190.500 338 L204 348.200 L219.700 358.400 C225 361.500 230 364 236 366.500" stroke="#7f8d9c" stroke-width="1.01" transform="translate(-0.300,-0.300)"/>
<path d="M179.100 322.500 C178.500 326 179.500 328.500 181.500 330.500" stroke="#7f8d9c" stroke-width="0.67" transform="translate(-0.300,-0.300)"/>
<path d="M171 300 C170 297 167.500 295 164 293.500 C160 291.800 155 291.500 150 292.500 C145.500 293.500 141 295 138 297.500 C135 300 133.500 303 131.500 305.500 C129.500 307.800 127.500 308.500 125 309.200" stroke="#7f8d9c" stroke-width="0.62" transform="translate(-0.300,-0.300)"/>
<path d="M190.500 338 C194 336.300 197 335.500 201 334.500 C206 333.300 212 332.800 216 334 C219.500 335.500 220.300 339 221 343 C221.700 347.500 222.500 351.500 224.500 355 C226 358 227.500 359.500 229 361" stroke="#7f8d9c" stroke-width="0.73" transform="translate(-0.300,-0.300)"/>
<path d="M196.500 342.500 C193.500 346 190.500 348.500 186.500 349.800 C182 351 176 351.300 168 352.800" stroke="#7f8d9c" stroke-width="0.67" transform="translate(-0.300,-0.300)"/>
</g>
<!-- light sleeves -->
<path d="M141 295.500 C145.500 293.300 150.500 292.300 156 292" fill="none" stroke="#b9c7d4" stroke-width="2" stroke-linecap="round"/>
<path d="M131.500 305.500 C133 303.300 134.500 300.800 137 298.500" fill="none" stroke="#a9b8c7" stroke-width="1.900" stroke-linecap="round"/>
<path d="M172.700 286 L172.500 296" stroke="#6c7a89" stroke-width="1" fill="none"/>
<!-- connectors -->
<path d="M173.300 252 L177.800 252 L178.300 261.500 L176.800 263.500 L174.300 263.500 L173 261.500 Z" fill="#a3b4c5" stroke="#7c8ea1" stroke-width="0.500"/>
<path d="M173.800 256 L177.800 256" stroke="#6c8095" stroke-width="0.800"/>
<path d="M116.900 309.800 L124.500 308 L125.300 311 L117.700 312.700 Z" fill="#a9b9c9" stroke="#7c8ea1" stroke-width="0.500"/>
<path d="M158.700 352.800 L167.500 351.300 L168.200 354.800 L159.500 356.300 Z" fill="#a9b9c9" stroke="#7c8ea1" stroke-width="0.500"/>
<path d="M233 363 L238 364.800 L240.800 368 L243.500 367.800 L244.300 369.800 L240 370.500 L235 368 Z" fill="#b4c3d1" stroke="#8193a6" stroke-width="0.500"/>
<path d="M226.500 359 L230.500 361.500 L232 365.500 L228.500 364.500 Z" fill="#a9b9c9"/>
<!-- small clips -->
<path d="M164.300 263.200 L167.800 263.200 M166 263.200 L166 267" stroke="#6e7f91" stroke-width="1"/>
<path d="M177.200 245 l2.200 -0.500 M175.300 281.500 l2.300 0.300 M160.800 306 l-2.500 1 M217 343.500 l2.800 -0.800" stroke="#8797a8" stroke-width="0.900"/>

</g>
<g id="battery">
<defs><linearGradient id="btop" x1="0" y1="0" x2="1" y2="1"><stop offset="0" stop-color="#bdccd9"/><stop offset="1" stop-color="#a9bbcc"/></linearGradient></defs>
<path d="M38.700 373.300 L43 361.200 L46.500 348.500 L57.700 342.100 L78.500 336.900 L95.800 338.700 L102.700 344.200 L116.600 343.700 L127 348.800 L168.500 380 L189.300 392.300 L188.400 397.500 L182.400 398.400 L179.800 408.800 L180 424.400 L131.300 438.400 L124.400 435.800 L42.100 377 Z" fill="#8da0b4"/>
<path d="M46.500 348.500 L57.700 342.100 L78.500 336.900 L95.800 338.700 L102.700 344.200 L116.600 343.700 L127 348.800 L168.500 380 L186.500 392 L176 398 L124 403 L99.300 385.300 L64.600 360.500 L52 356.500 L45 354 Z" fill="#9fb2c5"/>
<path d="M47 349 L57.700 342.500 L78.500 337.300 L95 339 L101 344.500 L80 351 L72 360 L64.600 360.500 L52 356 Z" fill="#b4c4d3"/>
<path d="M48 352 L56 346.500 L59.500 356 L52.500 357.500 Z" fill="#9cafc2"/>
<path d="M57.500 346 L76.500 340.500 L72 352.500 L62 357 Z" fill="#bfcdda"/>
<path d="M47 349 L57.700 342.500 L78.500 337.300 L95 339" fill="none" stroke="#cbd7e2" stroke-width="0.900"/>
<path d="M80.500 347.300 L97 342.800 Q101.500 342.500 101 344.900 Q100.500 346.700 97.500 347.700 L82.500 352 Q79 352 80.500 347.300 Z" fill="#98abbe"/>
<path d="M82.500 348.200 L97 344.200 Q99 344.200 98.500 345.400 L83.500 349.900 Z" fill="#c9d6e1"/>
<line x1="76.8" y1="364.4" x2="121.0" y2="351.8" stroke="#b0c1d1" stroke-width="4.600" stroke-linecap="round"/>
<line x1="78.5" y1="367.4" x2="122.5" y2="354.8" stroke="#8699ae" stroke-width="1.700" stroke-linecap="round"/>
<line x1="77.3" y1="362.8" x2="119.5" y2="350.2" stroke="#d3dee8" stroke-width="1.500" stroke-linecap="round"/>
<line x1="84.7" y1="369.9" x2="128.9" y2="357.3" stroke="#b0c1d1" stroke-width="4.600" stroke-linecap="round"/>
<line x1="86.4" y1="372.9" x2="130.4" y2="360.3" stroke="#8699ae" stroke-width="1.700" stroke-linecap="round"/>
<line x1="85.2" y1="368.3" x2="127.4" y2="355.7" stroke="#d3dee8" stroke-width="1.500" stroke-linecap="round"/>
<line x1="92.6" y1="375.5" x2="136.8" y2="362.9" stroke="#b0c1d1" stroke-width="4.600" stroke-linecap="round"/>
<line x1="94.3" y1="378.5" x2="138.3" y2="365.9" stroke="#8699ae" stroke-width="1.700" stroke-linecap="round"/>
<line x1="93.1" y1="373.9" x2="135.3" y2="361.3" stroke="#d3dee8" stroke-width="1.500" stroke-linecap="round"/>
<line x1="100.5" y1="381.0" x2="144.7" y2="368.4" stroke="#b0c1d1" stroke-width="4.600" stroke-linecap="round"/>
<line x1="102.2" y1="384.0" x2="146.2" y2="371.4" stroke="#8699ae" stroke-width="1.700" stroke-linecap="round"/>
<line x1="101.0" y1="379.4" x2="143.2" y2="366.8" stroke="#d3dee8" stroke-width="1.500" stroke-linecap="round"/>
<line x1="108.4" y1="386.5" x2="152.6" y2="373.9" stroke="#b0c1d1" stroke-width="4.600" stroke-linecap="round"/>
<line x1="110.1" y1="389.5" x2="154.1" y2="376.9" stroke="#8699ae" stroke-width="1.700" stroke-linecap="round"/>
<line x1="108.9" y1="384.9" x2="151.1" y2="372.3" stroke="#d3dee8" stroke-width="1.500" stroke-linecap="round"/>
<line x1="116.3" y1="392.1" x2="160.5" y2="379.4" stroke="#b0c1d1" stroke-width="4.600" stroke-linecap="round"/>
<line x1="118.0" y1="395.1" x2="162.0" y2="382.4" stroke="#8699ae" stroke-width="1.700" stroke-linecap="round"/>
<line x1="116.8" y1="390.4" x2="159.0" y2="377.8" stroke="#d3dee8" stroke-width="1.500" stroke-linecap="round"/>
<line x1="124.2" y1="397.6" x2="168.4" y2="385.0" stroke="#b0c1d1" stroke-width="4.600" stroke-linecap="round"/>
<line x1="125.9" y1="400.6" x2="169.9" y2="388.0" stroke="#8699ae" stroke-width="1.700" stroke-linecap="round"/>
<line x1="124.7" y1="396.0" x2="166.9" y2="383.4" stroke="#d3dee8" stroke-width="1.500" stroke-linecap="round"/>
<path d="M125 401 L128.500 398 L174.500 386.800 L180.500 390.500" fill="none" stroke="#c3d0dc" stroke-width="2.200" stroke-linejoin="round"/>
<path d="M102.700 344.200 L116.600 343.700 L127 348.800 L168.500 380 L186.500 392" fill="none" stroke="#9db0c3" stroke-width="1.800"/>
<ellipse cx="121.0" cy="346.3" rx="2" ry="1.300" fill="#b9c8d6"/>
<ellipse cx="129.4" cy="352.5" rx="2" ry="1.300" fill="#b9c8d6"/>
<ellipse cx="137.8" cy="358.7" rx="2" ry="1.300" fill="#b9c8d6"/>
<ellipse cx="146.2" cy="364.9" rx="2" ry="1.300" fill="#b9c8d6"/>
<ellipse cx="154.6" cy="371.1" rx="2" ry="1.300" fill="#b9c8d6"/>
<ellipse cx="163.0" cy="377.3" rx="2" ry="1.300" fill="#b9c8d6"/>
<path d="M38.700 373.300 L43 361.200 L45 354 L52 356.500 L64.600 360.500 L99.300 385.300 L124 403 L124.400 435.800 L42.100 377 Z" fill="#8b9eb2"/>
<line x1="47.0" y1="355.9" x2="47.0" y2="379.3" stroke="#a2b4c6" stroke-width="1.500"/>
<line x1="48.6" y1="358.5" x2="48.6" y2="380.0" stroke="#74889d" stroke-width="1.700"/>
<line x1="50.3" y1="357.1" x2="50.3" y2="381.7" stroke="#a2b4c6" stroke-width="1.500"/>
<line x1="51.9" y1="359.1" x2="51.9" y2="382.3" stroke="#74889d" stroke-width="1.700"/>
<line x1="53.6" y1="358.2" x2="53.6" y2="384.0" stroke="#a2b4c6" stroke-width="1.500"/>
<line x1="55.2" y1="361.3" x2="55.2" y2="384.7" stroke="#74889d" stroke-width="1.700"/>
<line x1="56.9" y1="359.3" x2="56.9" y2="386.4" stroke="#a2b4c6" stroke-width="1.500"/>
<line x1="58.5" y1="361.4" x2="58.5" y2="387.1" stroke="#74889d" stroke-width="1.700"/>
<line x1="60.2" y1="360.3" x2="60.2" y2="388.7" stroke="#a2b4c6" stroke-width="1.500"/>
<line x1="61.8" y1="362.1" x2="61.8" y2="389.4" stroke="#74889d" stroke-width="1.700"/>
<line x1="63.5" y1="361.3" x2="63.5" y2="391.1" stroke="#a2b4c6" stroke-width="1.500"/>
<line x1="65.1" y1="364.7" x2="65.1" y2="391.8" stroke="#74889d" stroke-width="1.700"/>
<line x1="66.8" y1="363.3" x2="66.8" y2="393.4" stroke="#a2b4c6" stroke-width="1.500"/>
<line x1="68.5" y1="369.1" x2="68.5" y2="394.1" stroke="#74889d" stroke-width="1.700"/>
<line x1="70.1" y1="365.6" x2="70.1" y2="395.8" stroke="#a2b4c6" stroke-width="1.500"/>
<line x1="71.8" y1="371.0" x2="71.8" y2="396.5" stroke="#74889d" stroke-width="1.700"/>
<line x1="73.4" y1="368.0" x2="73.4" y2="398.2" stroke="#a2b4c6" stroke-width="1.500"/>
<line x1="75.1" y1="373.2" x2="75.1" y2="398.8" stroke="#74889d" stroke-width="1.700"/>
<line x1="76.7" y1="370.4" x2="76.7" y2="400.5" stroke="#a2b4c6" stroke-width="1.500"/>
<line x1="78.4" y1="373.4" x2="78.4" y2="401.2" stroke="#74889d" stroke-width="1.700"/>
<line x1="80.0" y1="372.7" x2="80.0" y2="402.9" stroke="#a2b4c6" stroke-width="1.500"/>
<line x1="81.7" y1="377.0" x2="81.7" y2="403.6" stroke="#74889d" stroke-width="1.700"/>
<line x1="83.3" y1="375.1" x2="83.3" y2="405.2" stroke="#a2b4c6" stroke-width="1.500"/>
<line x1="85.0" y1="378.4" x2="85.0" y2="405.9" stroke="#74889d" stroke-width="1.700"/>
<line x1="86.6" y1="377.4" x2="86.6" y2="407.6" stroke="#a2b4c6" stroke-width="1.500"/>
<line x1="88.3" y1="380.3" x2="88.3" y2="408.3" stroke="#74889d" stroke-width="1.700"/>
<line x1="89.9" y1="379.8" x2="89.9" y2="410.0" stroke="#a2b4c6" stroke-width="1.500"/>
<line x1="91.6" y1="382.4" x2="91.6" y2="410.6" stroke="#74889d" stroke-width="1.700"/>
<line x1="93.2" y1="382.2" x2="93.2" y2="412.3" stroke="#a2b4c6" stroke-width="1.500"/>
<line x1="94.9" y1="385.2" x2="94.9" y2="413.0" stroke="#74889d" stroke-width="1.700"/>
<line x1="96.5" y1="384.5" x2="96.5" y2="414.7" stroke="#a2b4c6" stroke-width="1.500"/>
<line x1="98.2" y1="390.4" x2="98.2" y2="415.3" stroke="#74889d" stroke-width="1.700"/>
<line x1="99.8" y1="386.9" x2="99.8" y2="417.0" stroke="#a2b4c6" stroke-width="1.500"/>
<line x1="101.5" y1="392.4" x2="101.5" y2="417.7" stroke="#74889d" stroke-width="1.700"/>
<line x1="103.1" y1="389.2" x2="103.1" y2="419.4" stroke="#a2b4c6" stroke-width="1.500"/>
<line x1="104.8" y1="394.7" x2="104.8" y2="420.1" stroke="#74889d" stroke-width="1.700"/>
<line x1="106.4" y1="391.6" x2="106.4" y2="421.7" stroke="#a2b4c6" stroke-width="1.500"/>
<line x1="108.1" y1="397.0" x2="108.1" y2="422.4" stroke="#74889d" stroke-width="1.700"/>
<line x1="109.7" y1="394.0" x2="109.7" y2="424.1" stroke="#a2b4c6" stroke-width="1.500"/>
<line x1="111.4" y1="396.9" x2="111.4" y2="424.8" stroke="#74889d" stroke-width="1.700"/>
<line x1="113.0" y1="396.3" x2="113.0" y2="426.5" stroke="#a2b4c6" stroke-width="1.500"/>
<line x1="114.7" y1="399.8" x2="114.7" y2="427.1" stroke="#74889d" stroke-width="1.700"/>
<line x1="116.3" y1="398.7" x2="116.3" y2="428.8" stroke="#a2b4c6" stroke-width="1.500"/>
<line x1="118.0" y1="403.4" x2="118.0" y2="429.5" stroke="#74889d" stroke-width="1.700"/>
<line x1="119.6" y1="401.1" x2="119.6" y2="431.2" stroke="#a2b4c6" stroke-width="1.500"/>
<line x1="121.3" y1="406.2" x2="121.3" y2="431.9" stroke="#74889d" stroke-width="1.700"/>
<line x1="122.9" y1="403.4" x2="122.9" y2="433.5" stroke="#a2b4c6" stroke-width="1.500"/>
<path d="M46 365 L64 372 L99 397.500 L124 415.500" fill="none" stroke="#a6b7c8" stroke-width="1.100"/>
<path d="M45 354 L52 356.500 L64.600 360.500 L99.300 385.300 L124 403" fill="none" stroke="#c1cfdb" stroke-width="1.500"/>
<path d="M42.100 377 L124.400 435.800" fill="none" stroke="#9fb1c3" stroke-width="1.400"/>
<path d="M38.700 373.300 L43 361.200 L45 354 L47 355 L46 377.800 L42.100 377 Z" fill="#a1b3c5"/>
<path d="M124.300 411.200 L124 403 L128.500 399.300 L174.500 388 L180.500 391.500 L178.100 402.300 Z" fill="#a9bbcc"/>
<path d="M146.500 396 L156 393.700 L157.500 401.500 L148 404 Z" fill="#8ea1b5"/><circle cx="152.300" cy="398.600" r="2.100" fill="#6c8095"/><circle cx="152.300" cy="398.600" r="0.900" fill="#a9b9c9"/>
<line x1="128.5" y1="408.8" x2="128.5" y2="402.8" stroke="#8497ab" stroke-width="1.200"/>
<line x1="133.4" y1="407.9" x2="133.4" y2="401.9" stroke="#8497ab" stroke-width="1.200"/>
<line x1="138.3" y1="406.9" x2="138.3" y2="400.9" stroke="#8497ab" stroke-width="1.200"/>
<line x1="143.2" y1="405.9" x2="143.2" y2="399.9" stroke="#8497ab" stroke-width="1.200"/>
<line x1="148.1" y1="405.0" x2="148.1" y2="399.0" stroke="#8497ab" stroke-width="1.200"/>
<line x1="153.0" y1="404.1" x2="153.0" y2="398.1" stroke="#8497ab" stroke-width="1.200"/>
<line x1="157.9" y1="403.1" x2="157.9" y2="397.1" stroke="#8497ab" stroke-width="1.200"/>
<line x1="162.8" y1="402.2" x2="162.8" y2="396.2" stroke="#8497ab" stroke-width="1.200"/>
<line x1="167.7" y1="401.2" x2="167.7" y2="395.2" stroke="#8497ab" stroke-width="1.200"/>
<line x1="172.6" y1="400.2" x2="172.6" y2="394.2" stroke="#8497ab" stroke-width="1.200"/>
<path d="M124.300 411.200 L178.100 402.300 L179.800 408.800 L180 424.400 L131.300 438.400 L124.400 435.800 Z" fill="#8a9db2"/>
<line x1="128.7" y1="412.3" x2="128.7" y2="428.5" stroke="#b0c0d0" stroke-width="1.700"/>
<line x1="131.0" y1="413.8" x2="131.0" y2="427.0" stroke="#6d8196" stroke-width="1.600"/>
<line x1="133.4" y1="411.5" x2="133.4" y2="427.2" stroke="#b0c0d0" stroke-width="1.700"/>
<line x1="135.7" y1="413.0" x2="135.7" y2="425.7" stroke="#6d8196" stroke-width="1.600"/>
<line x1="138.1" y1="410.7" x2="138.1" y2="425.9" stroke="#b0c0d0" stroke-width="1.700"/>
<line x1="140.4" y1="412.2" x2="140.4" y2="424.4" stroke="#6d8196" stroke-width="1.600"/>
<line x1="142.8" y1="409.8" x2="142.8" y2="424.5" stroke="#b0c0d0" stroke-width="1.700"/>
<line x1="145.1" y1="411.3" x2="145.1" y2="423.0" stroke="#6d8196" stroke-width="1.600"/>
<line x1="147.5" y1="409.0" x2="147.5" y2="423.2" stroke="#b0c0d0" stroke-width="1.700"/>
<line x1="149.8" y1="410.5" x2="149.8" y2="421.7" stroke="#6d8196" stroke-width="1.600"/>
<line x1="152.2" y1="408.2" x2="152.2" y2="421.9" stroke="#b0c0d0" stroke-width="1.700"/>
<line x1="154.5" y1="409.7" x2="154.5" y2="420.4" stroke="#6d8196" stroke-width="1.600"/>
<line x1="156.9" y1="407.4" x2="156.9" y2="420.6" stroke="#b0c0d0" stroke-width="1.700"/>
<line x1="159.2" y1="408.9" x2="159.2" y2="419.1" stroke="#6d8196" stroke-width="1.600"/>
<line x1="161.6" y1="406.6" x2="161.6" y2="419.3" stroke="#b0c0d0" stroke-width="1.700"/>
<line x1="163.9" y1="408.1" x2="163.9" y2="417.8" stroke="#6d8196" stroke-width="1.600"/>
<line x1="166.3" y1="405.7" x2="166.3" y2="417.9" stroke="#b0c0d0" stroke-width="1.700"/>
<line x1="168.6" y1="407.2" x2="168.6" y2="416.4" stroke="#6d8196" stroke-width="1.600"/>
<line x1="171.0" y1="404.9" x2="171.0" y2="416.6" stroke="#b0c0d0" stroke-width="1.700"/>
<line x1="173.3" y1="406.4" x2="173.3" y2="415.1" stroke="#6d8196" stroke-width="1.600"/>
<line x1="175.7" y1="404.1" x2="175.7" y2="415.3" stroke="#b0c0d0" stroke-width="1.700"/>
<line x1="178.0" y1="405.6" x2="178.0" y2="413.8" stroke="#6d8196" stroke-width="1.600"/>
<path d="M125 419.500 L179.800 407.500" stroke="#9fb1c3" stroke-width="0.900" fill="none"/>
<path d="M126.500 429.500 L179.900 414.500 L180 424.400 L131.300 438.400 L126.500 436.500 Z" fill="#97aabd"/>
<path d="M126.500 429.500 L179.900 414.500" stroke="#b9c8d6" stroke-width="1" fill="none"/>
<path d="M124.300 411.200 L178.100 402.300" stroke="#c3d0dc" stroke-width="1.400" fill="none"/>
<path d="M124 403 L124.400 435.800" stroke="#aebfcf" stroke-width="1.600" fill="none"/>
<path d="M168.500 380 L189.300 392.300 L188.400 397.500 L182.400 398.400 L183 392.500 L174 387.500 Z" fill="#a9bacb"/>
<path d="M178.100 402.300 L182.400 398.400 L179.800 408.800 Z" fill="#93a6b9"/>
<rect x="179.300" y="409" width="2.300" height="4" fill="#a9bacb"/>
</g>
<g id="sticker">
<rect x="187.800" y="454.200" width="42.500" height="15.300" rx="1.300" fill="#f1b51f"/>
<path d="M203.200 455 L203.200 469 M216.200 455 L216.200 469" stroke="#d9a21b" stroke-width="0.500"/>
<polygon points="190.500,467.500 195.800,456.700 201.600,467.500" fill="none" stroke="#1e1e1e" stroke-width="0.900" stroke-linejoin="round"/>
<path d="M196.400 459.800 L194.900 463.200 L196.400 463 L195.300 466.200" fill="none" stroke="#1e1e1e" stroke-width="0.800"/>
<polygon points="207.700,460.700 209.200,457.300 210.800,460.700" fill="none" stroke="#2a2a2a" stroke-width="0.500"/>
<path d="M209.200 458.500 L209.200 460" stroke="#2a2a2a" stroke-width="0.400"/>
<rect x="204.300" y="462.500" width="10" height="4.800" fill="#fbf8ee" stroke="#8b7a45" stroke-width="0.300"/>
<path d="M209.300 462.500 L209.300 467.300" stroke="#4a4a4a" stroke-width="0.500"/>
<rect x="205.600" y="464" width="2.400" height="1.700" fill="none" stroke="#777" stroke-width="0.400"/>
<path d="M211.800 463.500 L211.800 466.400" stroke="#555" stroke-width="0.600"/>
<path d="M217.200 456.200 Q219.500 456.800 220 459" fill="none" stroke="#5a4a1a" stroke-width="0.500"/>
<path d="M221 460.200 L221.300 457.800 Q221.700 457.200 222.200 457.800 L222.300 456.900 Q222.900 456.300 223.400 456.900 L223.600 456.500 Q224.300 456 224.700 456.800 L224.900 457.300 Q225.600 457 225.900 457.800 L226.600 461.500 L226.200 464.500 L225.500 467.600 L222 467.600 L221.300 464 Z" fill="#1b1b1b"/>
<ellipse cx="223.700" cy="463" rx="1.100" ry="0.600" fill="#e8e0c0"/>
<path d="M228.300 457.500 L228.300 466.500" stroke="#b8891a" stroke-width="0.500" stroke-dasharray="0.800 0.600"/>

</g>
<g id="arrow">
<line x1="401" y1="446.100" x2="204" y2="414.300" stroke="#f90808" stroke-width="3" stroke-linecap="round"/>
<polygon points="188.700,412 207.400,407.800 204,419.800" fill="#f90808"/>

</g>
<g id="watermark">
<defs>
<filter id="wmblur" x="-5%" y="-50%" width="110%" height="200%"><feGaussianBlur stdDeviation="0.8"/></filter>
<g id="wmt" class="wm" stroke-linejoin="round">
<text x="0" y="0" textLength="1000.2" lengthAdjust="spacingAndGlyphs">magazinmercedes.</text>
<text x="1001.8" y="0" textLength="58.3" lengthAdjust="spacingAndGlyphs">r</text>
<text x="1061.1" y="0" textLength="49" lengthAdjust="spacingAndGlyphs">u</text>
</g>
<mask id="wmring" maskUnits="userSpaceOnUse" x="0" y="0" width="1000" height="664">
<rect width="1000" height="664" fill="#000"/>
<g transform="translate(49.5,661) rotate(-31.6)" filter="url(#wmblur)">
<use href="#wmt" fill="#fff" stroke="#fff" stroke-width="9.6"/>
<use href="#wmt" fill="#000" stroke="#000" stroke-width="1.4"/>
</g>
</mask>
<mask id="wmcenter" maskUnits="userSpaceOnUse" x="0" y="0" width="1000" height="664">
<rect width="1000" height="664" fill="#000"/>
<g transform="translate(49.5,661) rotate(-31.6)">
<use href="#wmt" fill="#fff" stroke="#fff" stroke-width="6.300"/>
<use href="#wmt" fill="#000" stroke="#000" stroke-width="4.700"/>
</g>
</mask>
</defs>
<rect width="1000" height="664" fill="#d8d8d8" opacity="0.56" mask="url(#wmring)"/>
<rect width="1000" height="664" fill="#fff" opacity="0.3" mask="url(#wmcenter)"/>

</g>
<g id="labels" style="opacity:0.999">
<rect x="66" y="417" width="22" height="21" fill="#a3d0e2"/>
<text class="lb" x="77" y="432.900" style="fill:#0f3d50">10</text>
<text class="lb" x="114.4" y="249.1">360</text>
<text class="lb" x="119" y="282.8">250</text>
<text class="lb" x="192.75" y="305.05">230</text>
<text class="lb" x="242.1" y="324.8">240</text>
<text class="lb" x="53.5" y="322.3">420</text>
<text class="lb" x="381" y="112.3">470</text>
<text class="lb" x="290.5" y="143.8">460</text>
<text class="lb" x="510.4" y="70.55">440</text>
<text class="lb" x="650.75" y="86.55">210</text>
<text class="lb" x="588.25" y="130.8">270</text>
<text class="lb" x="557.6" y="207.8">270</text>
<text class="lb" x="516.25" y="234.8">280</text>
<text class="lb" x="495.6" y="291.05">290</text>
<text class="lb" x="504.4" y="345.8">220</text>
<text class="lb" x="686.9" y="202.3">120</text>
<text class="lb" x="739" y="211.55">110</text>
<text class="lb" x="787.5" y="193.55">130</text>
<text class="lb" x="694.6" y="66.05">260</text>
<text class="lb" x="816.5" y="67.8">350</text>
<text class="lb" x="816.5" y="113.55">340</text>
<text class="lb" x="937.3" y="118.8">140</text>
<text class="lb" x="924.8" y="202.1">100</text>
<text class="lb" x="854" y="225.8">450</text>
<text class="lb" x="941.8" y="253.4">410</text>
<text class="lb" x="918.7" y="308.4">400</text>
<text class="lb" x="712.7" y="305.9">200</text>
<text class="lb" x="894.3" y="355.4">30</text>
<text class="lb" x="949.5" y="414.1">310</text>
<text class="lb" x="904.3" y="442.9">300</text>
<text class="lb" x="796.3" y="470.9">320</text>
<text class="lb" x="874.5" y="466.9">330</text>
<text class="lb" x="910.3" y="519.0">40</text>
<text class="lb" x="755" y="591.8">50</text>
<text class="lb" x="784" y="606.6">70</text>
<text class="lb" x="822.4" y="639.7">60</text>
<text class="lb" x="943" y="591.8">45</text>
<text class="lb" x="210.5" y="488.6">20</text>
</g>
</svg>
</body></html>
